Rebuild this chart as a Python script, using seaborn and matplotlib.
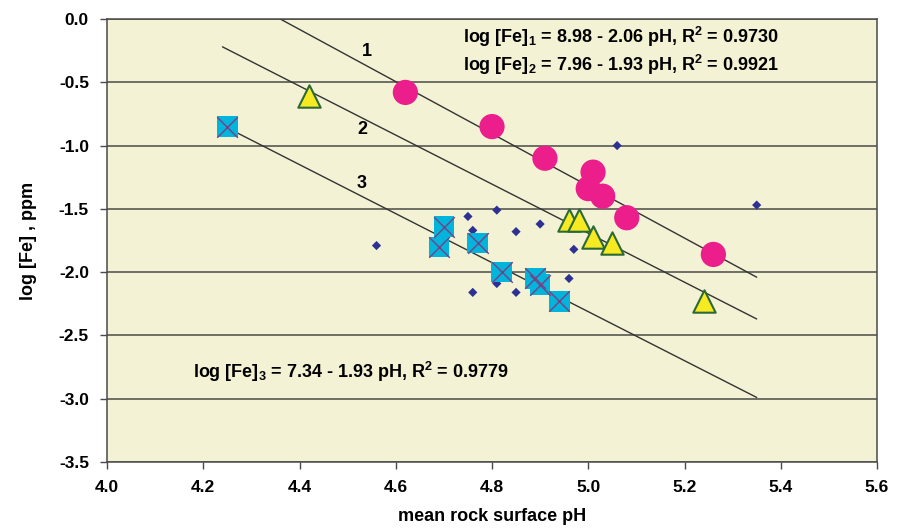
import matplotlib
matplotlib.use("Agg")
import matplotlib.pyplot as plt
import seaborn as sns

# series 1: magenta circles
ph_1 = [4.62, 4.80, 4.91, 5.01, 5.00, 5.03, 5.08, 5.26]
fe_1 = [-0.58, -0.85, -1.10, -1.21, -1.34, -1.40, -1.57, -1.86]

# series 2: yellow triangles
ph_2 = [4.42, 4.96, 4.98, 5.01, 5.05, 5.24]
fe_2 = [-0.61, -1.59, -1.59, -1.72, -1.77, -2.23]

# series 3: cyan squares
ph_3 = [4.25, 4.70, 4.69, 4.77, 4.82, 4.89, 4.90, 4.94]
fe_3 = [-0.85, -1.64, -1.80, -1.77, -2.00, -2.05, -2.10, -2.23]

# remaining samples: small diamonds
ph_other = [5.06, 5.35, 4.75, 4.81, 4.76, 4.85, 4.90, 4.97, 4.96, 4.81, 4.76, 4.85, 4.56]
fe_other = [-1.00, -1.47, -1.56, -1.51, -1.67, -1.68, -1.62, -1.82, -2.05, -2.09, -2.16, -2.16, -1.79]

# regression line end points
fit_1_x = [4.36, 5.35]
fit_1_y = [0.0, -2.04]
fit_2_x = [4.24, 5.35]
fit_2_y = [-0.22, -2.37]
fit_3_x = [4.25, 5.35]
fit_3_y = [-0.86, -2.99]

eq_1 = r"log [Fe]$_1$ = 8.98 - 2.06 pH, R$^2$ = 0.9730"
eq_2 = r"log [Fe]$_2$ = 7.96 - 1.93 pH, R$^2$ = 0.9921"
eq_3 = r"log [Fe]$_3$ = 7.34 - 1.93 pH, R$^2$ = 0.9779"

x_ticks = [4.0, 4.2, 4.4, 4.6, 4.8, 5.0, 5.2, 5.4, 5.6]
y_ticks = [0.0, -0.5, -1.0, -1.5, -2.0, -2.5, -3.0, -3.5]

sns.set_style("white")
plt.rcParams["font.family"] = ["Liberation Sans", "DejaVu Sans"]
plt.rcParams["text.color"] = "black"
plt.rcParams["axes.labelcolor"] = "black"
plt.rcParams["xtick.color"] = "black"
plt.rcParams["ytick.color"] = "black"
plt.rcParams["mathtext.fontset"] = "custom"
plt.rcParams["mathtext.rm"] = "Liberation Sans:bold"
plt.rcParams["mathtext.it"] = "Liberation Sans:bold"
plt.rcParams["mathtext.bf"] = "Liberation Sans:bold"

grid_col = "#4a4a48"

fig = plt.figure(figsize=(9.02, 5.29), dpi=100)
ax = fig.add_axes([107 / 902, 1 - 462 / 529, 770 / 902, 443 / 529])
ax.set_facecolor("#f3f2d5")

for y in y_ticks:
    ax.axhline(y, color=grid_col, lw=1.1, zorder=1)

for fx, fy in [(fit_1_x, fit_1_y), (fit_2_x, fit_2_y), (fit_3_x, fit_3_y)]:
    sns.lineplot(x=fx, y=fy, ax=ax, color="#333333", lw=1.0, zorder=2)

sns.scatterplot(x=ph_other, y=fe_other, ax=ax, marker="D", s=22,
                color="#2e3192", edgecolor="none", zorder=3)
sns.scatterplot(x=ph_3, y=fe_3, ax=ax, marker="s", s=220,
                color="#00b5dc", edgecolor="none", zorder=4)
sns.scatterplot(x=ph_3, y=fe_3, ax=ax, marker="x", s=220,
                color="#7a3f86", linewidth=1.0, zorder=5)
sns.scatterplot(x=ph_2, y=fe_2, ax=ax, marker="^", s=260,
                color="#f7ea22", edgecolor="#2c6a35", linewidth=1.5, zorder=4)
sns.scatterplot(x=ph_1, y=fe_1, ax=ax, marker="o", s=330,
                color="#eb1e8c", edgecolor="none", zorder=4)

for lx, ly, lab in [(4.54, -0.26, "1"), (4.53, -0.87, "2"), (4.53, -1.30, "3")]:
    ax.text(lx, ly, lab, fontsize=13, fontweight="bold", ha="center", va="center", zorder=6)

ax.text(5.068, -0.145, eq_1, fontsize=13, fontweight="bold", ha="center", va="center", zorder=6)
ax.text(5.068, -0.36, eq_2, fontsize=13, fontweight="bold", ha="center", va="center", zorder=6)
ax.text(4.179, -2.79, eq_3, fontsize=13, fontweight="bold", ha="left", va="center", zorder=6)

ax.set_xlim(4.0, 5.6)
ax.set_ylim(-3.5, 0.0)
ax.set_xticks(x_ticks)
ax.set_yticks(y_ticks)
ax.set_xticklabels([f"{v:.1f}" for v in x_ticks], fontsize=12.5, fontweight="bold")
ax.set_yticklabels([f"{v:.1f}" for v in y_ticks], fontsize=12.5, fontweight="bold")
ax.tick_params(axis="both", direction="out", length=5, width=1, color=grid_col,
               left=True, bottom=True, pad=8)
for sp in ax.spines.values():
    sp.set_color(grid_col)
    sp.set_linewidth(1.1)

ax.set_xlabel("mean rock surface pH", fontsize=13, fontweight="bold", labelpad=9)
ax.set_ylabel("log [Fe] , ppm", fontsize=13, fontweight="bold", labelpad=16)

fig.savefig("out.png", dpi=100)
